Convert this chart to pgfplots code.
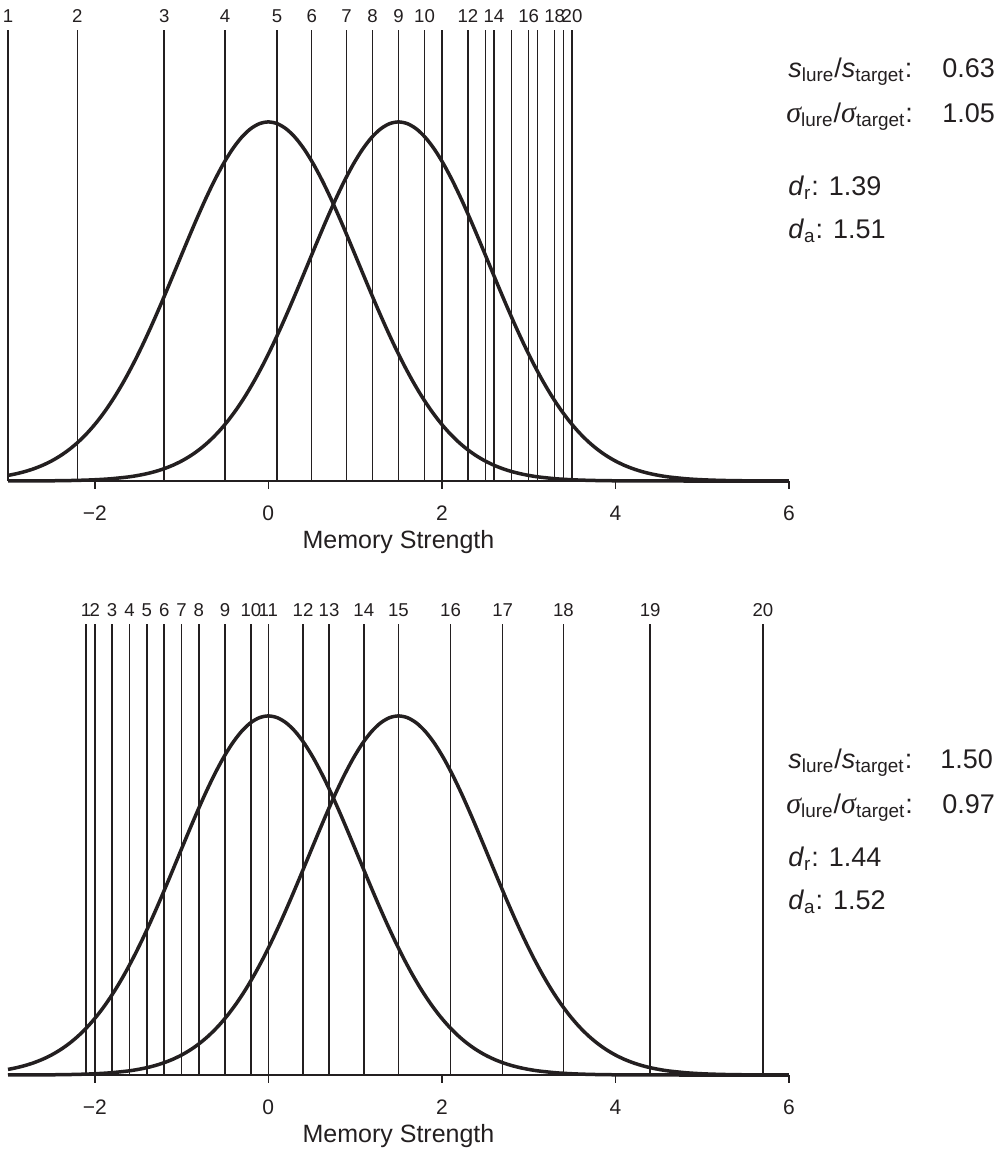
\documentclass[border=0pt]{standalone}
\usepackage{pgfplots}
\pgfplotsset{compat=1.18}
\usepackage{fontspec}
\setmainfont{Liberation Sans}
\newfontfamily\sigfont{Liberation Serif}
\definecolor{ink}{RGB}{35,31,32}

\pgfplotsset{
  sdtpanel/.style={
    scale only axis, width=390.5pt, height=225.5pt,
    xmin=-3, xmax=6, ymin=0, ymax=1.256,
    axis x line*=bottom, axis y line=none,
    xtick={-2,0,2,4,6}, xticklabels={−2,0,2,4,6},
    tick align=outside, major tick length=3.8pt,
    x axis line style={line width=0.75pt, color=ink, -},
    xtick style={line width=0.75pt, color=ink},
    xticklabel style={font=\fontsize{10.5}{11}\selectfont, text=ink, yshift=-5pt},
    xlabel={Memory Strength},
    xlabel style={font=\fontsize{12.5}{13}\selectfont, text=ink,
      at={(axis description cs:0.5,0)}, anchor=base, yshift=-33.5pt},
    clip=false, anchor=south west,
  },
  crit/.style={ycomb, line width=0.75pt, color=ink, mark=none},
  critlab/.style={crit, nodes near coords, point meta=explicit symbolic,
    every node near coord/.append style={anchor=base, inner sep=0pt, yshift=3.6pt,
      font=\fontsize{9.3}{10}\selectfont, text=ink}},
  dens/.style={line width=1.75pt, color=ink, smooth, mark=none},
}
\tikzset{statfont/.style={anchor=base west, inner sep=0pt, text=ink, font=\fontsize{13.5}{15}\selectfont}}
\newcommand{\sig}{{\sigfont\itshape\fontsize{15}{15}\selectfont σ}}

\begin{document}
\begin{tikzpicture}
\useasboundingbox (-4pt,-336pt) rectangle (496.5pt,240.5pt);

% ---------- top panel ----------
\begin{axis}[sdtpanel, at={(0pt,0pt)}]
\addplot[dens] coordinates {
 (-3,0.01560) (-2.912,0.01984) (-2.808,0.02612) (-2.704,0.03405) (-2.6,0.04394)
 (-2.496,0.05613) (-2.392,0.07101) (-2.288,0.08892) (-2.184,0.11025) (-2.08,0.13534)
 (-1.976,0.16447) (-1.872,0.19790) (-1.768,0.23575) (-1.664,0.27804) (-1.56,0.32465)
 (-1.456,0.37531) (-1.352,0.42956) (-1.248,0.48675) (-1.144,0.54607) (-1.04,0.60653)
 (-0.936,0.66698) (-0.832,0.72615) (-0.728,0.78270) (-0.624,0.83527) (-0.52,0.88250)
 (-0.416,0.92312) (-0.312,0.95600) (-0.208,0.98020) (-0.104,0.99501) (0,1)
 (0.104,0.99501) (0.208,0.98020) (0.312,0.95600) (0.416,0.92312) (0.52,0.88250)
 (0.624,0.83527) (0.728,0.78270) (0.832,0.72615) (0.936,0.66698) (1.04,0.60653)
 (1.144,0.54607) (1.248,0.48675) (1.352,0.42956) (1.456,0.37531) (1.56,0.32465)
 (1.664,0.27804) (1.768,0.23575) (1.872,0.19790) (1.976,0.16447) (2.08,0.13534)
 (2.184,0.11025) (2.288,0.08892) (2.392,0.07101) (2.496,0.05613) (2.6,0.04394)
 (2.704,0.03405) (2.808,0.02612) (2.912,0.01984) (3.016,0.01492) (3.12,0.01111)
 (3.328,0.00598) (3.536,0.00309) (3.744,0.00153) (3.952,0.00073) (4.16,0.00034)
 (4.68,0.00004) (5.2,0) (6,0)
};
\addplot[dens] coordinates {
 (-3,0.00009) (-2.66,0.00034) (-2.452,0.00073) (-2.244,0.00153) (-2.036,0.00309)
 (-1.828,0.00598) (-1.62,0.01111) (-1.516,0.01492) (-1.412,0.01984) (-1.308,0.02612)
 (-1.204,0.03405) (-1.1,0.04394) (-0.996,0.05613) (-0.892,0.07101) (-0.788,0.08892)
 (-0.684,0.11025) (-0.58,0.13534) (-0.476,0.16447) (-0.372,0.19790) (-0.268,0.23575)
 (-0.164,0.27804) (-0.06,0.32465) (0.044,0.37531) (0.148,0.42956) (0.252,0.48675)
 (0.356,0.54607) (0.46,0.60653) (0.564,0.66698) (0.668,0.72615) (0.772,0.78270)
 (0.876,0.83527) (0.98,0.88250) (1.084,0.92312) (1.188,0.95600) (1.292,0.98020)
 (1.396,0.99501) (1.5,1) (1.604,0.99501) (1.708,0.98020) (1.812,0.95600)
 (1.916,0.92312) (2.02,0.88250) (2.124,0.83527) (2.228,0.78270) (2.332,0.72615)
 (2.436,0.66698) (2.54,0.60653) (2.644,0.54607) (2.748,0.48675) (2.852,0.42956)
 (2.956,0.37531) (3.06,0.32465) (3.164,0.27804) (3.268,0.23575) (3.372,0.19790)
 (3.476,0.16447) (3.58,0.13534) (3.684,0.11025) (3.788,0.08892) (3.892,0.07101)
 (3.996,0.05613) (4.1,0.04394) (4.204,0.03405) (4.308,0.02612) (4.412,0.01984)
 (4.516,0.01492) (4.62,0.01111) (4.828,0.00598) (5.036,0.00309) (5.244,0.00153)
 (5.452,0.00073) (5.66,0.00034) (6,0.00009)
};
% response criteria (only some are labelled in the original)
\addplot[critlab] coordinates {
 (-3,1.256)[1] (-2.2,1.256)[2] (-1.2,1.256)[3] (-0.5,1.256)[4] (0.1,1.256)[5]
 (0.5,1.256)[6] (0.9,1.256)[7] (1.2,1.256)[8] (1.5,1.256)[9] (1.8,1.256)[10]
 (2.3,1.256)[12] (2.6,1.256)[14] (3.0,1.256)[16] (3.3,1.256)[18] (3.5,1.256)[20]
};
\addplot[crit] coordinates {
 (2.0,1.256) (2.5,1.256) (2.8,1.256) (3.1,1.256) (3.4,1.256)
};
\end{axis}

\node[statfont] at (390pt,202pt) {\textit{s}\textsubscript{lure}/\textit{s}\textsubscript{target}:};
\node[statfont] at (467pt,202pt) {0.63};
\node[statfont] at (389pt,179.5pt) {\sig\textsubscript{lure}/\sig\textsubscript{target}:};
\node[statfont] at (467pt,179.5pt) {1.05};
\node[statfont] at (390pt,143pt) {\textit{d}\textsubscript{r}: 1.39};
\node[statfont] at (390pt,121.5pt) {\textit{d}\textsubscript{a}: 1.51};

% ---------- bottom panel ----------
\begin{axis}[sdtpanel, at={(0pt,-297pt)}]
\addplot[dens] coordinates {
 (-3,0.01560) (-2.912,0.01984) (-2.808,0.02612) (-2.704,0.03405) (-2.6,0.04394)
 (-2.496,0.05613) (-2.392,0.07101) (-2.288,0.08892) (-2.184,0.11025) (-2.08,0.13534)
 (-1.976,0.16447) (-1.872,0.19790) (-1.768,0.23575) (-1.664,0.27804) (-1.56,0.32465)
 (-1.456,0.37531) (-1.352,0.42956) (-1.248,0.48675) (-1.144,0.54607) (-1.04,0.60653)
 (-0.936,0.66698) (-0.832,0.72615) (-0.728,0.78270) (-0.624,0.83527) (-0.52,0.88250)
 (-0.416,0.92312) (-0.312,0.95600) (-0.208,0.98020) (-0.104,0.99501) (0,1)
 (0.104,0.99501) (0.208,0.98020) (0.312,0.95600) (0.416,0.92312) (0.52,0.88250)
 (0.624,0.83527) (0.728,0.78270) (0.832,0.72615) (0.936,0.66698) (1.04,0.60653)
 (1.144,0.54607) (1.248,0.48675) (1.352,0.42956) (1.456,0.37531) (1.56,0.32465)
 (1.664,0.27804) (1.768,0.23575) (1.872,0.19790) (1.976,0.16447) (2.08,0.13534)
 (2.184,0.11025) (2.288,0.08892) (2.392,0.07101) (2.496,0.05613) (2.6,0.04394)
 (2.704,0.03405) (2.808,0.02612) (2.912,0.01984) (3.016,0.01492) (3.12,0.01111)
 (3.328,0.00598) (3.536,0.00309) (3.744,0.00153) (3.952,0.00073) (4.16,0.00034)
 (4.68,0.00004) (5.2,0) (6,0)
};
\addplot[dens] coordinates {
 (-3,0.00009) (-2.66,0.00034) (-2.452,0.00073) (-2.244,0.00153) (-2.036,0.00309)
 (-1.828,0.00598) (-1.62,0.01111) (-1.516,0.01492) (-1.412,0.01984) (-1.308,0.02612)
 (-1.204,0.03405) (-1.1,0.04394) (-0.996,0.05613) (-0.892,0.07101) (-0.788,0.08892)
 (-0.684,0.11025) (-0.58,0.13534) (-0.476,0.16447) (-0.372,0.19790) (-0.268,0.23575)
 (-0.164,0.27804) (-0.06,0.32465) (0.044,0.37531) (0.148,0.42956) (0.252,0.48675)
 (0.356,0.54607) (0.46,0.60653) (0.564,0.66698) (0.668,0.72615) (0.772,0.78270)
 (0.876,0.83527) (0.98,0.88250) (1.084,0.92312) (1.188,0.95600) (1.292,0.98020)
 (1.396,0.99501) (1.5,1) (1.604,0.99501) (1.708,0.98020) (1.812,0.95600)
 (1.916,0.92312) (2.02,0.88250) (2.124,0.83527) (2.228,0.78270) (2.332,0.72615)
 (2.436,0.66698) (2.54,0.60653) (2.644,0.54607) (2.748,0.48675) (2.852,0.42956)
 (2.956,0.37531) (3.06,0.32465) (3.164,0.27804) (3.268,0.23575) (3.372,0.19790)
 (3.476,0.16447) (3.58,0.13534) (3.684,0.11025) (3.788,0.08892) (3.892,0.07101)
 (3.996,0.05613) (4.1,0.04394) (4.204,0.03405) (4.308,0.02612) (4.412,0.01984)
 (4.516,0.01492) (4.62,0.01111) (4.828,0.00598) (5.036,0.00309) (5.244,0.00153)
 (5.452,0.00073) (5.66,0.00034) (6,0.00009)
};
\addplot[critlab] coordinates {
 (-2.1,1.256)[1] (-2.0,1.256)[2] (-1.8,1.256)[3] (-1.6,1.256)[4] (-1.4,1.256)[5]
 (-1.2,1.256)[6] (-1.0,1.256)[7] (-0.8,1.256)[8] (-0.5,1.256)[9] (-0.2,1.256)[10]
 (0,1.256)[11] (0.4,1.256)[12] (0.7,1.256)[13] (1.1,1.256)[14] (1.5,1.256)[15]
 (2.1,1.256)[16] (2.7,1.256)[17] (3.4,1.256)[18] (4.4,1.256)[19] (5.7,1.256)[20]
};
\end{axis}

\node[statfont] at (390pt,-143.5pt) {\textit{s}\textsubscript{lure}/\textit{s}\textsubscript{target}:};
\node[statfont] at (466pt,-143.5pt) {1.50};
\node[statfont] at (389pt,-166pt) {\sig\textsubscript{lure}/\sig\textsubscript{target}:};
\node[statfont] at (467pt,-166pt) {0.97};
\node[statfont] at (390pt,-192.5pt) {\textit{d}\textsubscript{r}: 1.44};
\node[statfont] at (390pt,-214pt) {\textit{d}\textsubscript{a}: 1.52};
\end{tikzpicture}
\end{document}
